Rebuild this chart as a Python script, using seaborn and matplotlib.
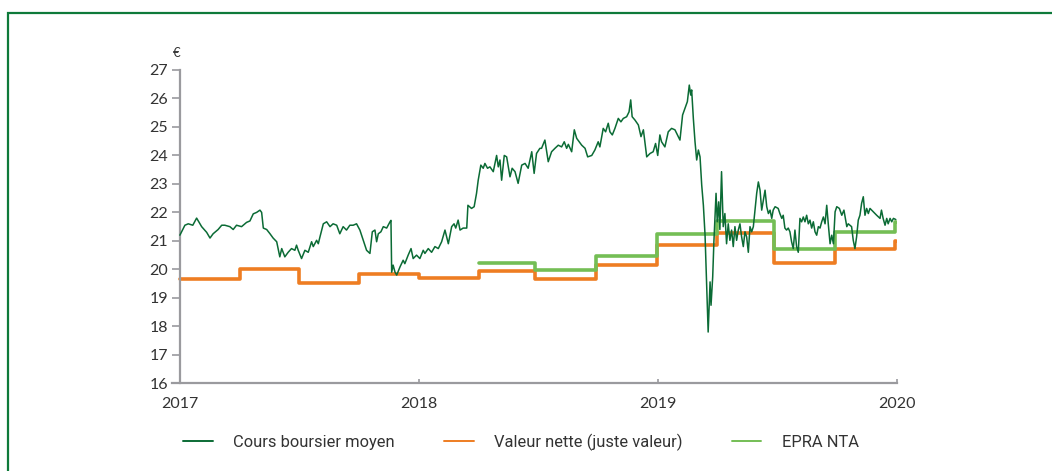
import matplotlib
matplotlib.use("Agg")
import matplotlib.pyplot as plt
from matplotlib.lines import Line2D
from matplotlib.patches import Rectangle
import seaborn as sns
import pandas as pd

# ---------------- data ----------------
price_t = [
    2017.000, 2017.021, 2017.035, 2017.054, 2017.070, 2017.091, 2017.112, 2017.126, 2017.139, 2017.160,
    2017.175, 2017.188, 2017.209, 2017.223, 2017.237, 2017.258, 2017.279, 2017.293, 2017.307, 2017.321,
    2017.335, 2017.342, 2017.349, 2017.363, 2017.377, 2017.390, 2017.405, 2017.418, 2017.426, 2017.439,
    2017.453, 2017.467, 2017.481, 2017.488, 2017.495, 2017.509, 2017.523, 2017.537, 2017.551, 2017.558,
    2017.572, 2017.579, 2017.586, 2017.600, 2017.614, 2017.628, 2017.641, 2017.656, 2017.669, 2017.683,
    2017.697, 2017.711, 2017.725, 2017.739, 2017.753, 2017.767, 2017.781, 2017.795, 2017.805, 2017.816,
    2017.823, 2017.830, 2017.841, 2017.851, 2017.865, 2017.879, 2017.883, 2017.886, 2017.892, 2017.900,
    2017.907, 2017.921, 2017.934, 2017.941, 2017.955, 2017.967, 2017.976, 2017.990, 2018.004, 2018.018,
    2018.025, 2018.039, 2018.053, 2018.067, 2018.081, 2018.095, 2018.109, 2018.123, 2018.137, 2018.147,
    2018.154, 2018.164, 2018.172, 2018.185, 2018.200, 2018.205, 2018.220, 2018.231, 2018.241, 2018.248,
    2018.259, 2018.269, 2018.276, 2018.287, 2018.297, 2018.311, 2018.325, 2018.332, 2018.339, 2018.346,
    2018.357, 2018.367, 2018.381, 2018.390, 2018.402, 2018.415, 2018.430, 2018.444, 2018.457, 2018.472,
    2018.482, 2018.492, 2018.506, 2018.513, 2018.527, 2018.541, 2018.555, 2018.569, 2018.583, 2018.597,
    2018.608, 2018.618, 2018.625, 2018.639, 2018.650, 2018.660, 2018.681, 2018.695, 2018.706, 2018.723,
    2018.736, 2018.750, 2018.757, 2018.771, 2018.781, 2018.792, 2018.799, 2018.809, 2018.820, 2018.834,
    2018.845, 2018.855, 2018.869, 2018.879, 2018.886, 2018.892, 2018.904, 2018.918, 2018.929, 2018.939,
    2018.953, 2018.967, 2018.980, 2018.990, 2018.999, 2019.008, 2019.015, 2019.029, 2019.043, 2019.057,
    2019.071, 2019.085, 2019.092, 2019.103, 2019.113, 2019.123, 2019.131, 2019.137, 2019.141, 2019.148,
    2019.155, 2019.162, 2019.169, 2019.176, 2019.183, 2019.190, 2019.197, 2019.204, 2019.210, 2019.218,
    2019.222, 2019.229, 2019.234, 2019.243, 2019.248, 2019.254, 2019.259, 2019.266, 2019.273, 2019.280,
    2019.287, 2019.294, 2019.301, 2019.308, 2019.315, 2019.322, 2019.329, 2019.336, 2019.343, 2019.350,
    2019.357, 2019.364, 2019.371, 2019.378, 2019.385, 2019.392, 2019.399, 2019.406, 2019.413, 2019.420,
    2019.427, 2019.434, 2019.441, 2019.448, 2019.455, 2019.462, 2019.469, 2019.476, 2019.482, 2019.490,
    2019.503, 2019.510, 2019.518, 2019.524, 2019.531, 2019.538, 2019.545, 2019.552, 2019.559, 2019.566,
    2019.573, 2019.580, 2019.587, 2019.594, 2019.601, 2019.608, 2019.615, 2019.622, 2019.629, 2019.636,
    2019.643, 2019.650, 2019.657, 2019.664, 2019.671, 2019.678, 2019.685, 2019.692, 2019.699, 2019.706,
    2019.713, 2019.720, 2019.727, 2019.734, 2019.741, 2019.748, 2019.759, 2019.769, 2019.778, 2019.790,
    2019.796, 2019.810, 2019.817, 2019.824, 2019.831, 2019.838, 2019.845, 2019.852, 2019.859, 2019.866,
    2019.873, 2019.880, 2019.887, 2019.901, 2019.915, 2019.929, 2019.935, 2019.942, 2019.950, 2019.957,
    2019.963, 2019.971, 2019.978, 2019.985, 2019.995,
]
price_v = [
    21.20, 21.55, 21.60, 21.55, 21.80, 21.50, 21.30, 21.10, 21.25, 21.40,
    21.55, 21.55, 21.50, 21.40, 21.55, 21.50, 21.65, 21.70, 21.95, 22.00,
    22.08, 22.00, 21.45, 21.40, 21.25, 21.10, 20.97, 20.44, 20.73, 20.44,
    20.60, 20.73, 20.67, 20.85, 20.67, 20.38, 20.67, 20.60, 20.97, 20.80,
    21.02, 20.90, 21.14, 21.60, 21.67, 21.50, 21.60, 21.55, 21.25, 21.50,
    21.38, 21.55, 21.55, 21.60, 21.38, 21.02, 20.67, 20.56, 21.32, 21.38,
    20.97, 21.25, 21.32, 21.50, 21.45, 21.67, 21.72, 19.90, 20.15, 19.90,
    19.80, 20.09, 20.32, 20.20, 20.50, 20.73, 20.38, 20.50, 20.38, 20.67,
    20.56, 20.73, 20.60, 20.80, 20.73, 20.97, 21.38, 20.90, 21.50, 21.60,
    21.45, 21.73, 21.38, 21.45, 21.45, 22.25, 22.14, 22.20, 22.67, 23.13,
    23.66, 23.55, 23.72, 23.55, 23.60, 23.43, 24.00, 23.60, 23.84, 23.13,
    24.00, 23.95, 23.25, 23.55, 23.43, 23.02, 23.66, 23.72, 23.55, 24.13,
    23.37, 24.07, 24.25, 24.25, 24.54, 23.78, 24.13, 24.25, 24.36, 24.30,
    24.48, 24.25, 24.39, 24.13, 24.90, 24.60, 24.36, 24.25, 23.95, 24.00,
    24.19, 24.48, 24.30, 24.95, 24.83, 25.13, 24.83, 24.72, 24.95, 25.30,
    25.18, 25.30, 25.36, 25.53, 25.95, 25.36, 25.24, 25.07, 24.66, 24.90,
    23.95, 24.07, 24.13, 24.42, 24.00, 24.72, 24.48, 24.30, 24.83, 24.95,
    24.90, 24.66, 24.54, 25.42, 25.65, 25.89, 26.47, 26.12, 26.30, 25.30,
    24.48, 23.84, 24.19, 23.95, 22.96, 22.25, 21.20, 19.33, 17.80, 19.56,
    18.74, 19.74, 20.97, 22.67, 21.67, 22.37, 21.40, 23.43, 21.50, 21.96,
    20.90, 21.60, 21.02, 21.38, 20.80, 21.50, 21.02, 21.38, 21.60, 21.14,
    20.80, 21.32, 21.14, 20.60, 21.50, 21.32, 21.50, 22.08, 22.67, 23.07,
    22.78, 22.08, 22.43, 22.78, 22.20, 21.96, 22.08, 21.79, 22.08, 22.20,
    22.14, 21.96, 21.79, 21.90, 21.45, 21.38, 21.45, 21.32, 20.97, 20.73,
    21.38, 20.80, 20.60, 21.79, 21.67, 21.84, 21.67, 21.90, 21.60, 21.73,
    21.45, 21.67, 21.32, 21.20, 21.50, 21.45, 21.67, 21.84, 21.60, 22.25,
    21.55, 20.90, 21.20, 20.90, 22.02, 22.20, 22.14, 21.90, 22.08, 21.50,
    21.60, 21.50, 21.02, 20.73, 21.14, 21.73, 21.90, 22.32, 22.55, 21.90,
    22.14, 21.96, 22.14, 22.02, 21.90, 21.79, 22.08, 21.79, 21.55, 21.79,
    21.60, 21.79, 21.67, 21.79, 21.75,
]

nav_t = [2017.000, 2017.250, 2017.500, 2017.750, 2018.000, 2018.250, 2018.487, 2018.742,
         2018.995, 2019.245, 2019.485, 2019.740, 2019.990, 2019.996]
nav_v = [19.65, 20.02, 19.52, 19.85, 19.71, 19.96, 19.65, 20.17,
         20.87, 21.26, 20.24, 20.71, 21.00, 21.00]

nta_t = [2018.250, 2018.487, 2018.742, 2018.995, 2019.245, 2019.485, 2019.740, 2019.990, 2019.996]
nta_v = [20.22, 19.97, 20.46, 21.23, 21.69, 20.71, 21.32, 21.65, 21.65]

series_names = ["Cours boursier moyen", "Valeur nette (juste valeur)", "EPRA NTA"]
year_ticks = [2017, 2018, 2019, 2020]
value_ticks = list(range(16, 28))
unit_label = "€"

# ---------------- style ----------------
C_PRICE = "#0B6B35"
C_NAV = "#EE7D22"
C_NTA = "#74BE55"
C_AXIS = "#9A9A9E"
C_TEXT = "#333333"

sns.set_theme(style="white")
plt.rcParams["font.family"] = ["Lato", "DejaVu Sans"]

fig = plt.figure(figsize=(10.52, 4.71), dpi=100)
ax = fig.add_axes([172 / 1052, 1 - 383.3 / 471, (897 - 172) / 1052, 313.3 / 471])

df_price = pd.DataFrame({"t": price_t, "v": price_v})
df_nav = pd.DataFrame({"t": nav_t, "v": nav_v})
df_nta = pd.DataFrame({"t": nta_t, "v": nta_v})

sns.lineplot(data=df_nav, x="t", y="v", ax=ax, color=C_NAV, linewidth=2.6,
             drawstyle="steps-post", legend=False, zorder=2)
sns.lineplot(data=df_nta, x="t", y="v", ax=ax, color=C_NTA, linewidth=2.6,
             drawstyle="steps-post", legend=False, zorder=2)
sns.lineplot(data=df_price, x="t", y="v", ax=ax, color=C_PRICE, linewidth=1.1,
             legend=False, zorder=3)

ax.set_xlim(2016.967, 2020.0)
ax.set_ylim(16, 27)
ax.set_xlabel("")
ax.set_ylabel("")
ax.set_xticks(year_ticks)
ax.set_xticklabels([str(y) for y in year_ticks])
ax.set_yticks(value_ticks)
ax.set_yticklabels([str(v) for v in value_ticks])

for s in ["top", "right"]:
    ax.spines[s].set_visible(False)
ax.spines["left"].set_position(("data", 2017))
for s in ["left", "bottom"]:
    ax.spines[s].set_color(C_AXIS)
    ax.spines[s].set_linewidth(1.6)

ax.tick_params(axis="y", direction="out", length=5.5, width=1.2, color=C_AXIS,
               labelsize=11.5, labelcolor=C_TEXT, pad=3, left=True)
ax.tick_params(axis="x", direction="in", length=3, width=1.2, color=C_AXIS,
               labelsize=11.5, labelcolor=C_TEXT, pad=10, bottom=True)

ax.annotate(unit_label, xy=(2017, 27), xycoords="data", xytext=(-2, 8),
            textcoords="offset points", ha="center", va="bottom",
            fontsize=9.5, color=C_TEXT, annotation_clip=False)

# legend
handles = [Line2D([], [], color=C_PRICE, linewidth=1.4),
           Line2D([], [], color=C_NAV, linewidth=1.4),
           Line2D([], [], color=C_NTA, linewidth=1.4)]
leg = fig.legend(handles, series_names, loc="center", bbox_to_anchor=(521 / 1052, 1 - 442 / 471),
                 ncol=3, frameon=False, handlelength=1.8, handletextpad=1.25, columnspacing=2.95,
                 prop={"family": ["Roboto", "DejaVu Sans"], "size": 11.9})
for t in leg.get_texts():
    t.set_color(C_TEXT)

# frame border
fig.patches.append(Rectangle((7.5 / 1052, -0.05), 1.2, 1 - 12.5 / 471 + 0.05,
                             transform=fig.transFigure, fill=False,
                             edgecolor="#0E7A3A", linewidth=1.6, zorder=0))

fig.savefig("out.png", dpi=100)
